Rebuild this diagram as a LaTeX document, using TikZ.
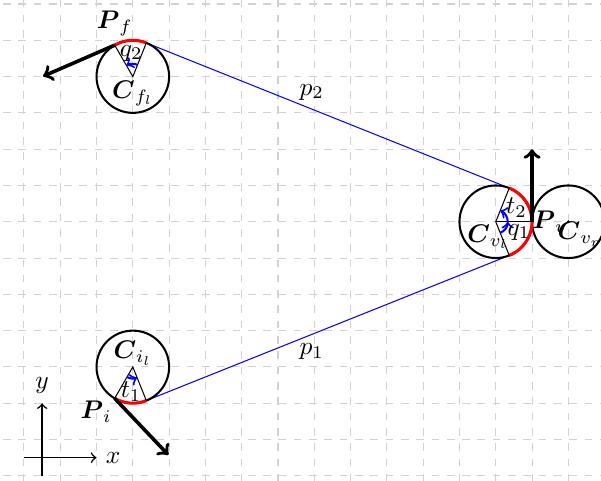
\documentclass[tikz,border=0pt]{standalone}
\usepackage{amsmath,amssymb}
\usepackage{tikz}
\usetikzlibrary{calc}

\begin{document}
\begin{tikzpicture}[
  x=0.5cm, y=0.5cm,
  gridline/.style={dashed, gray!35, line width=0.4pt},
  circ/.style={thick},
  redarc/.style={red, very thick},
  bluepath/.style={draw=blue, thin},
  spoke/.style={thin},
  anglemark/.style={blue, thick, ->},
  anglelbl/.style={inner sep=0pt},
  headarr/.style={->, line width=1.4pt},
  axisline/.style={->, semithick},
]
  \useasboundingbox (-0.66,-0.14) rectangle (15.9,13.11);

  % Grid
  \begin{scope}
    \clip (-0.66,-0.14) rectangle (15.9,13.11);
    \draw[gridline, step=1] (-1,-1) grid (16,14);
  \end{scope}

  % Centres and contact points
  \coordinate (Cil) at (3,3);
  \coordinate (Cvl) at (13,7);
  \coordinate (Cvr) at (15,7);
  \coordinate (Cfl) at (3,11);
  \coordinate (Pi)  at ($(Cil)+(240:1)$);
  \coordinate (Ti)  at ($(Cil)+(-68.2:1)$);
  \coordinate (Tva) at ($(Cvl)+(-68.2:1)$);
  \coordinate (Pv)  at ($(Cvl)+(0:1)$);
  \coordinate (Tvb) at ($(Cvl)+(68.2:1)$);
  \coordinate (Tf)  at ($(Cfl)+(68.2:1)$);
  \coordinate (Pf)  at ($(Cfl)+(120:1)$);

  % Heading ends
  \coordinate (Hi) at ($(Pi)+(-46.5:2.15)$);
  \coordinate (Hv) at ($(Pv)+(90:2)$);
  \coordinate (Hf) at ($(Pf)+(203.5:2.15)$);

  % Straight parts
  \draw[bluepath] (Ti) -- node[below, pos=0.456] (lp1) {$p_1$} (Tva);
  \draw[bluepath] (Tvb) -- node[above, pos=0.544] (lp2) {$p_2$} (Tf);

  % Turning circles
  \draw[circ] (Cil) circle[radius=1];
  \draw[circ] (Cvl) circle[radius=1];
  \draw[circ] (Cvr) circle[radius=1];
  \draw[circ] (Cfl) circle[radius=1];
  \fill (Cvr) circle[radius=0.6pt];

  % Arcs of the path
  \draw[redarc] (Pi) arc[start angle=240, end angle=291.8, radius=1];
  \draw[redarc] (Tva) arc[start angle=-68.2, end angle=68.2, radius=1];
  \draw[redarc] (Tf) arc[start angle=68.2, end angle=120, radius=1];

  % Spokes
  \draw[spoke] (Pi) -- (Cil) -- (Ti);
  \draw[spoke] (Tva) -- (Cvl) -- (Tvb);
  \draw[spoke] (Cvl) -- (Pv);
  \draw[spoke] (Tf) -- (Cfl) -- (Pf);

  % Turn angles
  \draw[anglemark] ($(Cil)+(240:0.32)$) arc[start angle=240, end angle=291.8, radius=0.32];
  \draw[anglemark] ($(Cvl)+(-68.2:0.33)$) arc[start angle=-68.2, end angle=0, radius=0.33];
  \draw[anglemark] ($(Cvl)+(0:0.33)$) arc[start angle=0, end angle=68.2, radius=0.33];
  \draw[anglemark] ($(Cfl)+(68.2:0.35)$) arc[start angle=68.2, end angle=120, radius=0.35];
  \node[anglelbl] (lt1) at ($(Cil)+(266:0.68)$) {$t_1$};
  \node[anglelbl] (lq1) at ($(Cvl)+(-24:0.7)$) {$q_1$};
  \node[anglelbl] (lt2) at ($(Cvl)+(34:0.69)$) {$t_2$};
  \node[anglelbl] (lq2) at ($(Cfl)+(94:0.65)$) {$q_2$};

  % Headings
  \draw[headarr] (Pi) -- (Hi);
  \draw[headarr] (Pv) -- (Hv);
  \draw[headarr] (Pf) -- (Hf);

  % Names
  \node[above] (lPf) at (Pf) {$\boldsymbol{P}_f$};
  \node[anchor=north east, inner sep=1pt] (lPi) at (Pi) {$\boldsymbol{P}_i$};
  \node[anchor=west, inner sep=0pt] (lPv) at (Pv) {$\boldsymbol{P}_v$};
  \node[anchor=north, inner sep=1.5pt] (lCfl) at (Cfl) {$\boldsymbol{C}_{f_l}$};
  \node[anchor=south, inner sep=0.5pt] (lCil) at (Cil) {$\boldsymbol{C}_{i_l}$};
  \node[anchor=north, inner sep=1pt, xshift=-3pt] (lCvl) at (Cvl) {$\boldsymbol{C}_{v_l}$};
  \node[anchor=north, inner sep=0pt, xshift=4.5pt] (lCvr) at (Cvr) {$\boldsymbol{C}_{v_r}$};

  % Axes
  \coordinate (xa) at (0,0.5);
  \coordinate (xb) at (2,0.5);
  \coordinate (ya) at (0.5,0);
  \coordinate (yb) at (0.5,2);
  \draw[axisline] (xa) -- (xb) node[right] (lx) {$x$};
  \draw[axisline] (ya) -- (yb) node[above] (ly) {$y$};
\end{tikzpicture}
\end{document}
